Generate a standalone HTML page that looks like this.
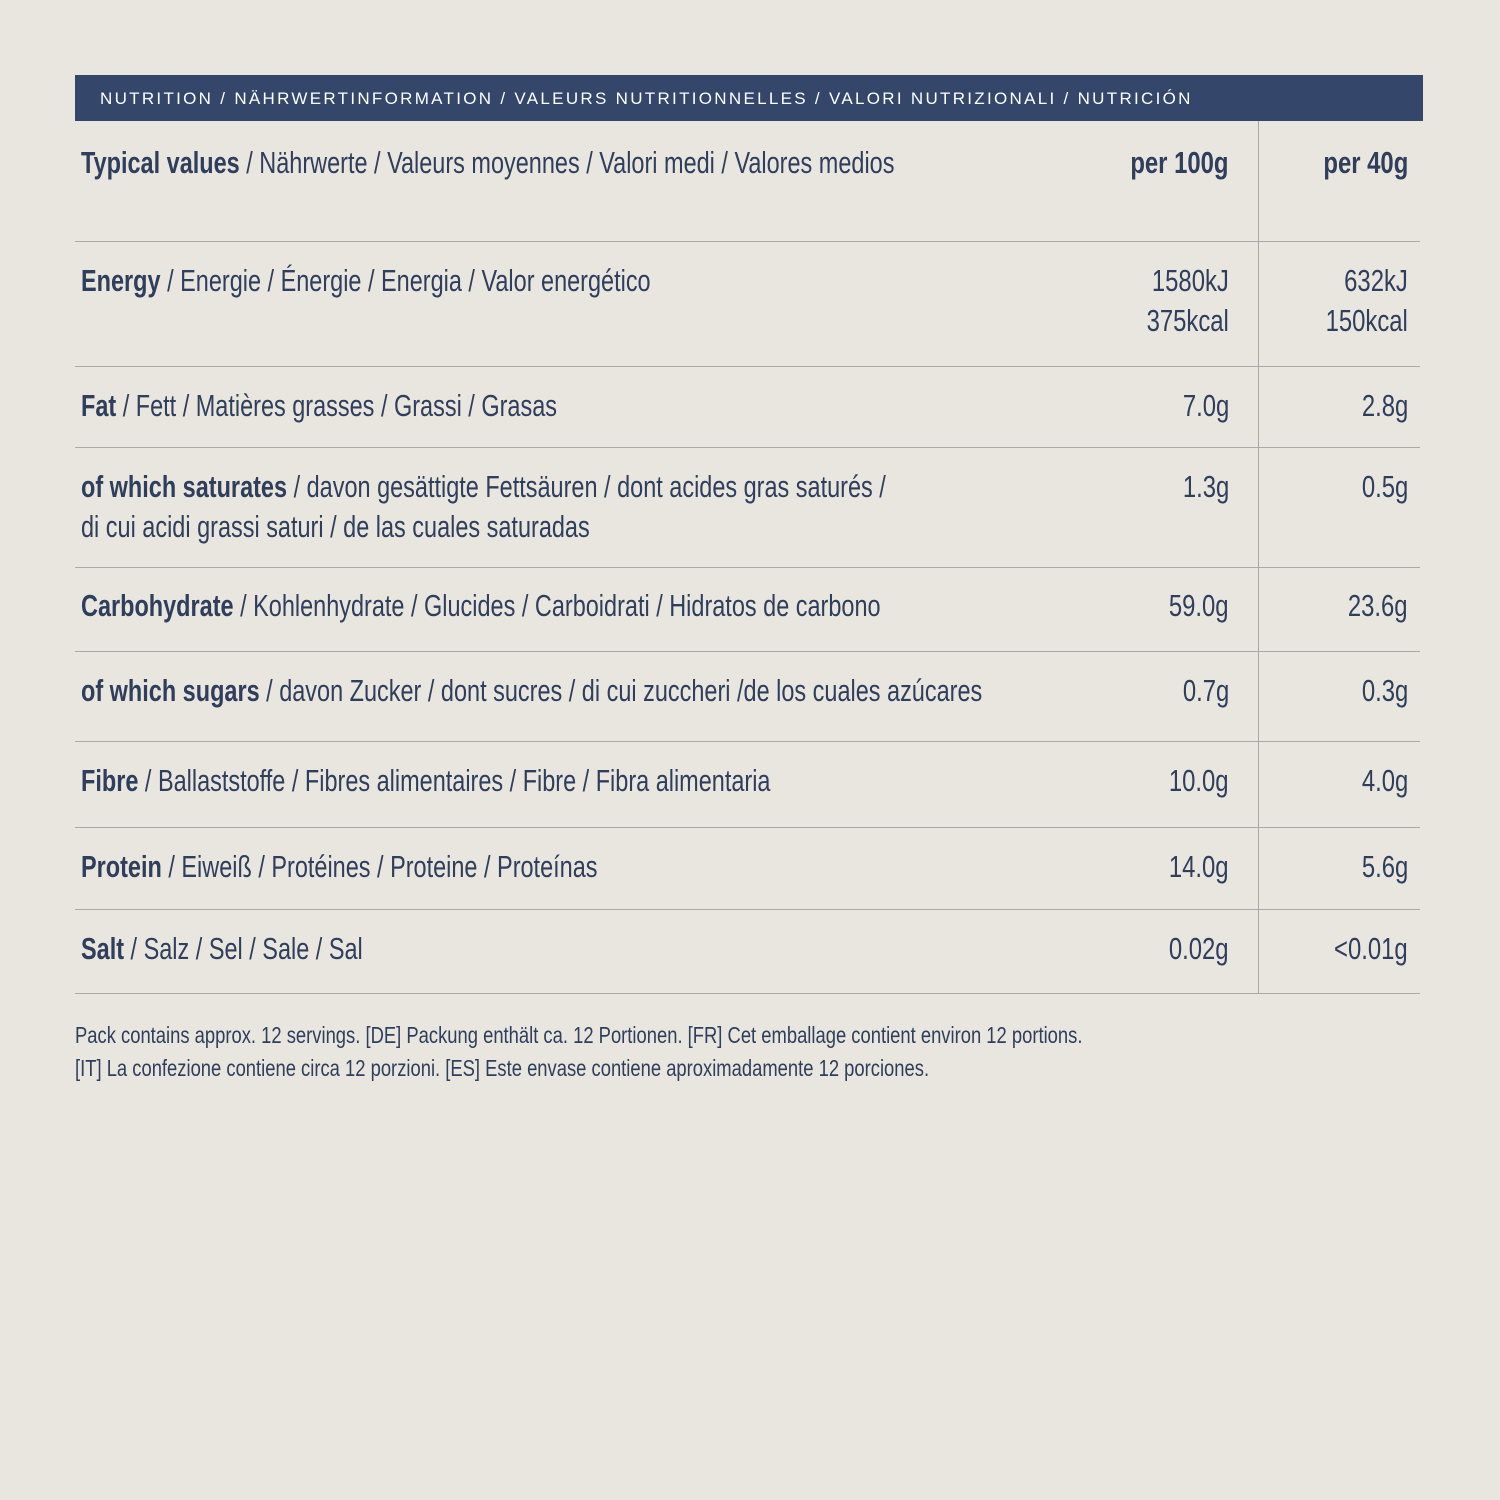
<!DOCTYPE html>
<html><head><meta charset="utf-8"><style>
body{margin:0;width:1500px;height:1500px;background:#e9e6e0;position:relative;overflow:hidden;font-family:"Liberation Sans Narrow","Liberation Sans",sans-serif;color:#2f3e5a}
.bar{position:absolute;left:75px;top:75px;width:1348px;height:46px;background:#34476a}
.bar span{position:absolute;left:25px;top:14px;color:#fff;font-family:"Liberation Sans",sans-serif;font-size:17px;letter-spacing:2.3px;white-space:nowrap}
.h{position:absolute;left:75px;width:1345px;height:1px;background:#a9a9a9}
.v{position:absolute;left:1258px;top:121px;width:1px;height:872px;background:#a9a9a9}
.t{position:absolute;left:81px;font-size:31px;line-height:40px;white-space:nowrap;transform:scaleX(0.757);transform-origin:left center}
.n{position:absolute;font-size:31px;line-height:40px;white-space:nowrap;text-align:right;transform:scaleX(0.77);transform-origin:right center}
.a{right:271px}.b{right:92px}
b{font-weight:bold}
.f{position:absolute;left:75px;font-size:23px;line-height:33px;white-space:nowrap;transform:scaleX(0.80);transform-origin:left center}
</style></head><body>
<div class="bar"><span>NUTRITION / NÄHRWERTINFORMATION / VALEURS NUTRITIONNELLES / VALORI NUTRIZIONALI / NUTRICIÓN</span></div>
<div class="v"></div>
<div class="h" style="top:241px"></div><div class="h" style="top:366px"></div><div class="h" style="top:447px"></div><div class="h" style="top:567px"></div><div class="h" style="top:651px"></div><div class="h" style="top:741px"></div><div class="h" style="top:827px"></div><div class="h" style="top:909px"></div><div class="h" style="top:993px"></div>

<div class="t" style="top:143px"><b>Typical values</b> / Nährwerte / Valeurs moyennes / Valori medi / Valores medios</div>
<div class="n a" style="top:143px"><b>per 100g</b></div><div class="n b" style="top:143px"><b>per 40g</b></div>

<div class="t" style="top:261px"><b>Energy</b> / Energie / Énergie / Energia / Valor energético</div>
<div class="n a" style="top:261px">1580kJ<br>375kcal</div><div class="n b" style="top:261px">632kJ<br>150kcal</div>

<div class="t" style="top:386px"><b>Fat</b> / Fett / Matières grasses / Grassi / Grasas</div>
<div class="n a" style="top:386px">7.0g</div><div class="n b" style="top:386px">2.8g</div>

<div class="t" style="top:467px"><b>of which saturates</b> / davon gesättigte Fettsäuren / dont acides gras saturés /<br>di cui acidi grassi saturi / de las cuales saturadas</div>
<div class="n a" style="top:467px">1.3g</div><div class="n b" style="top:467px">0.5g</div>

<div class="t" style="top:586px"><b>Carbohydrate</b> / Kohlenhydrate / Glucides / Carboidrati / Hidratos de carbono</div>
<div class="n a" style="top:586px">59.0g</div><div class="n b" style="top:586px">23.6g</div>

<div class="t" style="top:671px"><b>of which sugars</b> / davon Zucker / dont sucres / di cui zuccheri /de los cuales azúcares</div>
<div class="n a" style="top:671px">0.7g</div><div class="n b" style="top:671px">0.3g</div>

<div class="t" style="top:761px"><b>Fibre</b> / Ballaststoffe / Fibres alimentaires / Fibre / Fibra alimentaria</div>
<div class="n a" style="top:761px">10.0g</div><div class="n b" style="top:761px">4.0g</div>

<div class="t" style="top:847px"><b>Protein</b> / Eiweiß / Protéines / Proteine / Proteínas</div>
<div class="n a" style="top:847px">14.0g</div><div class="n b" style="top:847px">5.6g</div>

<div class="t" style="top:929px"><b>Salt</b> / Salz / Sel / Sale / Sal</div>
<div class="n a" style="top:929px">0.02g</div><div class="n b" style="top:929px">&lt;0.01g</div>

<div class="f" style="top:1019px">Pack contains approx. 12 servings. [DE] Packung enthält ca. 12 Portionen. [FR] Cet emballage contient environ 12 portions.<br>[IT] La confezione contiene circa 12 porzioni. [ES] Este envase contiene aproximadamente 12 porciones.</div>
</body></html>
